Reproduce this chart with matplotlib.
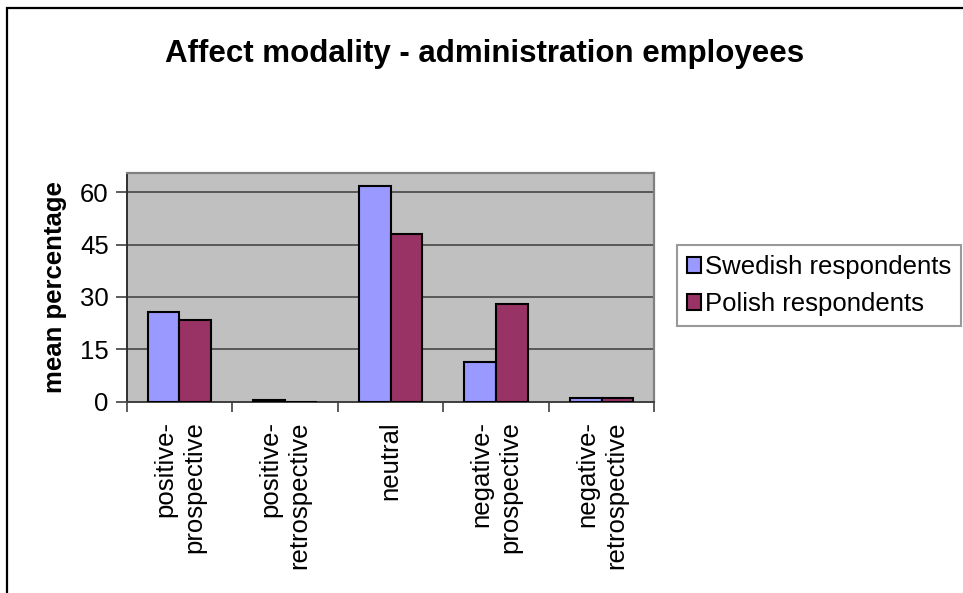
import matplotlib
matplotlib.use("Agg")
import matplotlib.pyplot as plt
from matplotlib.patches import Rectangle
import numpy as np

plt.rcParams['font.family'] = ['Liberation Sans', 'DejaVu Sans']

categories = ["positive-\nprospective", "positive-\nretrospective", "neutral",
              "negative-\nprospective", "negative-\nretrospective"]
swedish = [25.7, 0.5, 61.7, 11.4, 1.1]
polish = [23.4, 0.0, 48.0, 28.0, 1.1]
series_names = ["Swedish respondents", "Polish respondents"]
y_ticks = [0, 15, 30, 45, 60]

W, H = 963, 593
fig = plt.figure(figsize=(W / 100, H / 100), dpi=100)
fig.patch.set_facecolor("white")

# outer chart frame (left and top edges visible)
fig.patches.append(Rectangle((6.5 / W, -0.1), 1.2, 1 - 7.5 / H + 0.1,
                             transform=fig.transFigure, fill=False,
                             edgecolor="black", linewidth=1.6, zorder=0))

ax = fig.add_axes([126.7 / W, 1 - 401.7 / H, (654.3 - 126.7) / W, (401.7 - 173.3) / H])
ax.set_facecolor("#C0C0C0")

x = np.arange(len(categories))
bw = 0.3
ax.bar(x - bw / 2, swedish, bw, color="#9999FF", edgecolor="black", linewidth=1.5,
       label=series_names[0], zorder=3)
ax.bar(x + bw / 2, polish, bw, color="#993366", edgecolor="black", linewidth=1.5,
       label=series_names[1], zorder=3)

ax.set_xlim(-0.5, len(categories) - 0.5)
ax.set_ylim(0, 65.4)
ax.set_yticks(y_ticks)
ax.set_yticklabels([str(v) for v in y_ticks], fontsize=18.5)
ax.yaxis.grid(True, color="#505050", linewidth=1.3, zorder=1)
ax.set_axisbelow(True)
ax.tick_params(axis="y", length=8, width=1.2, color="#404040", pad=5)

ax.set_xticks(x)
ax.set_xticklabels(categories, rotation=90, fontsize=18.5, va="top", ha="center",
                   multialignment="right", linespacing=1.25)
ax.set_xticks(np.arange(-0.5, len(categories)), minor=True)
ax.tick_params(axis="x", which="major", length=0, pad=14)
ax.tick_params(axis="x", which="minor", length=7, width=1.2, color="#404040")

for side in ("top", "right"):
    ax.spines[side].set_color("#808080")
    ax.spines[side].set_linewidth(1.6)
ax.spines["left"].set_color("#303030")
ax.spines["bottom"].set_color("#404040")
ax.spines["left"].set_linewidth(1.4)
ax.spines["bottom"].set_linewidth(1.4)

ax.set_ylabel("mean percentage", fontsize=18.5, fontweight="bold", labelpad=9)

fig.text(485 / W, 1 - 54 / H, "Affect modality - administration employees",
         ha="center", va="center", fontsize=22.5, fontweight="bold")

leg = fig.legend(loc="upper left", bbox_to_anchor=(676.7 / W, 1 - 245 / H),
                 fontsize=18.5, frameon=True, fancybox=False, handlelength=0.55,
                 handleheight=0.6, handletextpad=0.15, borderpad=0.4,
                 labelspacing=0.5, borderaxespad=0)
leg.get_frame().set_edgecolor("#808080")
leg.get_frame().set_linewidth(1.5)

fig.savefig("out.png", dpi=100)
